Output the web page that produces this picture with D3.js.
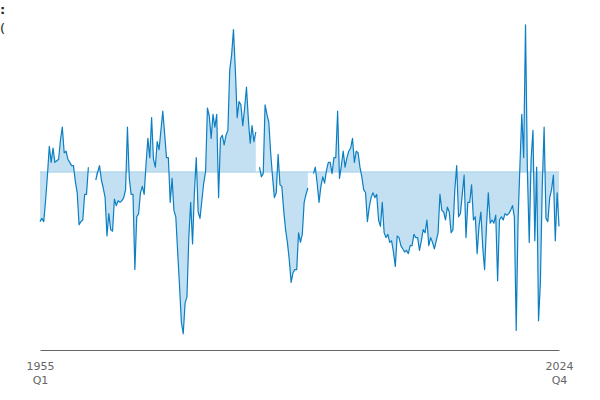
<!DOCTYPE html>
<html>
<head>
<meta charset="utf-8">
<script src="https://cdn.jsdelivr.net/npm/d3@7"></script>
<style>
  body { margin: 0; background: #fff; }
  svg { display: block; font-family: "DejaVu Sans", sans-serif; }
</style>
</head>
<body>
<svg id="chart" width="600" height="400"></svg>
<script>
// quarterly values, 1955 Q1 .. 2024 Q4 (null = no data)
const values = [
  -3.1, -2.9, -3.1, -1.8, -0.2, 1.6, 0.6, 1.5, 0.6, 0.7,
  0.8, 2.0, 2.8, 1.2, 1.3, 0.8, 0.6, 0.4, 0.4, -0.6,
  -1.3, -3.3, -3.1, -3.0, -1.4, -1.4, 0.3, null, null, null,
  -0.5, 0.0, 0.4, -0.5, -1.0, -1.6, -4.0, -2.6, -3.6, -3.7,
  -1.7, -2.1, -1.8, -1.9, -1.8, -1.6, -1.1, 2.8, -0.4, -1.4,
  -1.4, -6.1, -2.8, -2.6, -1.3, -0.9, -1.4, 0.5, 2.1, 0.9,
  3.4, 0.8, 0.3, 1.9, 1.4, 2.6, 3.8, 2.4, 0.9, 0.9,
  -1.9, -0.4, -2.4, -2.8, -5.0, -7.1, -9.4, -10.1, -8.2, -7.8,
  -4.1, -1.9, -4.5, -1.3, 0.9, -2.5, -2.9, -1.8, -0.7, 0.0,
  4.0, 3.5, 2.1, 3.6, 2.8, 3.6, -1.6, 2.1, 2.3, 1.7,
  2.3, 2.6, 6.4, 7.3, 8.9, 6.4, 3.4, 4.4, 4.2, 2.9,
  4.0, 5.3, 3.3, 1.8, 2.9, 1.9, 2.5, null, 0.3, -0.3,
  -0.1, 4.2, 3.6, 3.1, 1.2, -0.3, -1.6, -1.3, 1.1, -0.8,
  -0.9, -2.4, -3.6, -4.4, -5.5, -6.9, -6.3, -6.1, -6.1, -3.8,
  -4.4, -3.9, -1.9, -1.4, -1.0, null, null, -0.1, 0.3, -0.7,
  -1.9, -0.9, -0.3, -0.7, 0.1, 0.6, 0.6, -0.1, 0.9, 0.9,
  3.8, -0.4, 0.4, 1.3, 0.3, 0.9, 1.3, 1.5, 2.1, 0.6,
  1.3, 1.2, 0.3, -0.3, -1.1, -1.3, -3.1, -2.2, -1.6, -1.3,
  -1.6, -1.4, -3.0, -3.4, -1.9, -3.8, -4.1, -3.9, -4.4, -4.3,
  -5.0, -5.9, -4.0, -4.1, -4.6, -4.8, -5.0, -4.9, -5.1, -4.6,
  -4.6, -3.9, -4.1, -4.1, -4.9, -4.3, -3.6, -3.8, -3.0, -4.6,
  -4.1, -4.4, -4.8, -4.3, -3.8, -1.4, -2.4, -2.5, -3.0, -2.2,
  -2.5, -3.8, -3.6, -1.1, 0.4, -2.8, -2.6, -1.4, -0.2, -4.1,
  -1.9, -1.9, -0.8, -3.0, -2.8, -5.1, -3.4, -2.5, -4.7, -6.1,
  -3.4, -1.3, -3.2, -3.0, -3.2, -2.7, -6.8, -3.0, -2.8, -3.0,
  -2.6, -2.7, -2.6, -2.4, -2.1, -2.8, -9.9, -3.0, 0.4, 3.6,
  0.9, 9.2, 0.1, -4.4, 0.8, 2.6, -4.3, 0.3, -9.3, -6.9,
  -0.9, 2.8, -2.9, -3.1, -1.6, -1.1, -0.2, -4.3, -1.3, -3.4
];

// axis end labels
const tickIndex = [0, values.length - 1];
const tickLabels = [["1955", "Q1"], ["2024", "Q4"]];

// title lines (only their ends show at the left edge)
const titleLines = [":", "("];

const data = values.map(function(v, i) { return {i: i, v: v}; });

const svg = d3.select("#chart");

const x = d3.scaleLinear()
    .domain([0, values.length - 1])
    .range([40, 559]);

const y = d3.scaleLinear()
    .domain([-11, 10])
    .range([348, 12]);

// shaded area between series and zero
const area = d3.area()
    .defined(function(d) { return d.v !== null; })
    .x(function(d) { return x(d.i); })
    .y0(y(0))
    .y1(function(d) { return y(d.v); });

svg.append("path")
    .datum(data)
    .attr("d", area)
    .style("fill", "#c2e0f1");

// zero line
svg.append("line")
    .attr("x1", x(0))
    .attr("x2", x(values.length - 1))
    .attr("y1", y(0))
    .attr("y2", y(0))
    .style("stroke", "#b5d8ec")
    .style("stroke-width", 1.5);

const line = d3.line()
    .defined(function(d) { return d.v !== null; })
    .x(function(d) { return x(d.i); })
    .y(function(d) { return y(d.v); });

svg.append("path")
    .datum(data)
    .attr("d", line)
    .style("fill", "none")
    .style("stroke", "#0c7fc3")
    .style("stroke-width", 1.2)
    .style("stroke-linejoin", "round");

// x axis
const xAxis = d3.axisBottom(x)
    .tickValues(tickIndex)
    .tickSize(0)
    .tickSizeOuter(0)
    .tickFormat("");

const axisG = svg.append("g")
    .attr("transform", "translate(0,350)")
    .call(xAxis);

axisG.select(".domain").style("stroke", "#666");

axisG.selectAll(".tick text").remove();
axisG.selectAll(".tick").each(function(d, k) {
    let t = d3.select(this).append("text")
        .attr("text-anchor", "middle")
        .style("fill", "#666")
        .style("font-size", "11px")
        .style("font-family", "DejaVu Sans, sans-serif");
    t.append("tspan").attr("x", 0).attr("y", 20).text(tickLabels[k][0]);
    t.append("tspan").attr("x", 0).attr("y", 34).text(tickLabels[k][1]);
});

// title fragments
svg.selectAll(".title_t")
    .data(titleLines)
    .enter().append("text")
    .attr("class", "title_t")
    .attr("x", 0)
    .attr("y", function(d, i) { return i == 0 ? 14 : 33; })
    .style("font-size", "13px")
    .style("font-weight", function(d, i) { return i == 0 ? "bold" : "normal"; })
    .style("fill", "#222")
    .text(function(d) { return d; });
</script>
</body>
</html>
